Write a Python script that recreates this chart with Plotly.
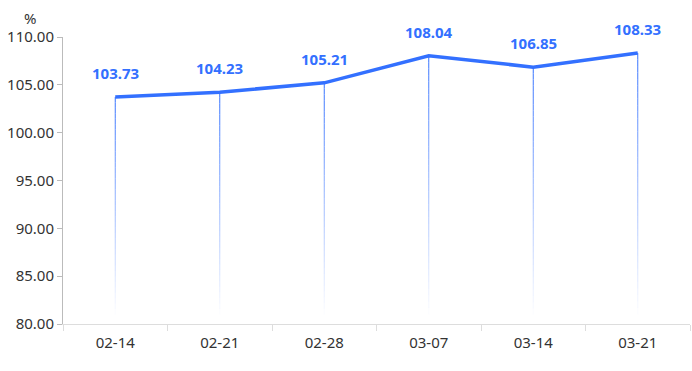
import plotly.graph_objects as go

categories = ["02-14", "02-21", "02-28", "03-07", "03-14", "03-21"]
values = [103.73, 104.23, 105.21, 108.04, 106.85, 108.33]
y_ticks = [80, 85, 90, 95, 100, 105, 110]

BLUE = "#3370FF"
fig = go.Figure()

# gradient drop lines: split into fading segments
fade_bottom = 81.0
n_seg = 40
for cat, v in zip(categories, values):
    for k in range(n_seg):
        y0 = v - (v - fade_bottom) * k / n_seg
        y1 = v - (v - fade_bottom) * (k + 1) / n_seg
        op = 1 - (k + 0.5) / n_seg
        fig.add_shape(type="line", xref="x", yref="y", x0=cat, x1=cat, y0=y0, y1=y1,
                      line=dict(color=BLUE, width=1), opacity=op, layer="below")

fig.add_trace(go.Scatter(x=categories, y=values, mode="lines",
                         line=dict(color=BLUE, width=3.5), hoverinfo="skip",
                         showlegend=False))

for cat, v in zip(categories, values):
    fig.add_annotation(x=cat, y=v, text=f"<b>{v:.2f}</b>", showarrow=False,
                       yshift=24, font=dict(color=BLUE, size=15, family="Noto Sans"))

fig.add_annotation(xref="paper", yref="paper", x=-0.053, y=1.0, yshift=7,
                   yanchor="bottom", text="%", showarrow=False, xanchor="center",
                   font=dict(size=15, color="#333", family="Noto Sans"))

fig.update_layout(
    width=692, height=371,
    margin=dict(l=63, r=2, t=37, b=47),
    paper_bgcolor="white", plot_bgcolor="white",
    font=dict(family="Noto Sans", size=15, color="#333"),
    xaxis=dict(type="category", range=[-0.5, 5.5], tickson="boundaries", ticks="outside", ticklen=6,
               tickcolor="#ddd", showline=True, linecolor="#ddd", linewidth=1,
               showgrid=False, tickfont=dict(size=15, color="#333"), ticklabelstandoff=5),
    yaxis=dict(range=[80, 110], tickvals=y_ticks, ticktext=[f"{t:.2f}" for t in y_ticks],
               ticks="outside", ticklen=5, tickcolor="#bbb", showline=True,
               linecolor="#bbb", linewidth=1, showgrid=False, zeroline=False,
               tickfont=dict(size=15, color="#333")),
)

fig.write_html("out.html", config={"displayModeBar": False},
               post_script="document.body.style.margin='0px';")
